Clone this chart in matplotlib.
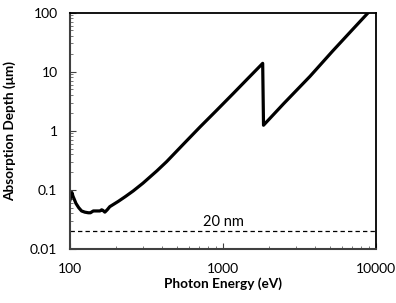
import matplotlib
matplotlib.use("Agg")
import matplotlib.pyplot as plt
from matplotlib.ticker import LogLocator, NullFormatter, FixedLocator, FixedFormatter

plt.rcParams['font.family'] = ['Lato', 'DejaVu Sans']

energy = [100, 102, 103, 104.6, 107, 109.4, 114, 119, 125, 131.7, 136, 142, 150, 157,
          161, 164, 169, 175, 182, 207, 230, 259, 300, 370, 428, 550, 708, 900, 1167,
          1450, 1817, 1840, 2500, 3700, 5200, 7000, 8916]
depth = [0.068, 0.085, 0.090, 0.078, 0.068, 0.059, 0.050, 0.044, 0.042, 0.041, 0.041,
         0.044, 0.044, 0.044, 0.046, 0.045, 0.042, 0.046, 0.052, 0.064, 0.077, 0.096,
         0.130, 0.210, 0.300, 0.59, 1.16, 2.16, 4.27, 7.6, 13.8, 1.24, 2.9, 8.3, 22.2,
         51.0, 100.0]

ref_level = 0.02
ref_label = "20 nm"
xticks = [100, 1000, 10000]
xticklabels = ["100", "1000", "10000"]
yticks = [0.01, 0.1, 1, 10, 100]
yticklabels = ["0.01", "0.1", "1", "10", "100"]

fig = plt.figure(figsize=(3.96, 3.03), dpi=100)
ax = fig.add_axes([70/396, 1-249/303, 306/396, (249-12.5)/303])

ax.plot(energy, depth, color='black', lw=2.3, solid_joinstyle='round', clip_on=True)
ax.axhline(ref_level, color='black', lw=0.9, ls=(0, (3.5, 2.5)))
ax.text(740, ref_level*1.07, ref_label, ha='left', va='bottom', fontsize=10.5)

ax.set_xscale('log')
ax.set_yscale('log')
ax.set_xlim(100, 10000)
ax.set_ylim(0.01, 100)

ax.xaxis.set_major_locator(FixedLocator(xticks))
ax.xaxis.set_major_formatter(FixedFormatter(xticklabels))
ax.yaxis.set_major_locator(FixedLocator(yticks))
ax.yaxis.set_major_formatter(FixedFormatter(yticklabels))
ax.xaxis.set_minor_locator(LogLocator(base=10, subs=range(2, 10)))
ax.yaxis.set_minor_locator(LogLocator(base=10, subs=range(2, 10)))
ax.xaxis.set_minor_formatter(NullFormatter())
ax.yaxis.set_minor_formatter(NullFormatter())

ax.tick_params(which='major', direction='in', length=4, width=0.8, color='#404040',
               labelsize=10, top=False, right=False)
ax.tick_params(axis='x', which='major', pad=10)
ax.tick_params(axis='y', which='major', pad=9)
ax.tick_params(which='minor', direction='in', length=2.5, width=0.6, color='#606060',
               top=False, right=False)

for s in ['top', 'right']:
    ax.spines[s].set_color('black')
    ax.spines[s].set_linewidth(1.3)
for s in ['left', 'bottom']:
    ax.spines[s].set_color('#404040')
    ax.spines[s].set_linewidth(1.5)

ax.set_xlabel('Photon Energy (eV)', fontsize=9.8, fontweight='bold')
ax.set_ylabel('Absorption Depth (\u03bcm)', fontsize=9.8, fontweight='bold')
ax.xaxis.set_label_coords(0.5, (249-277)/236.5)
ax.yaxis.set_label_coords((16-70)/306, 0.5)

fig.savefig('out.png', dpi=100)
